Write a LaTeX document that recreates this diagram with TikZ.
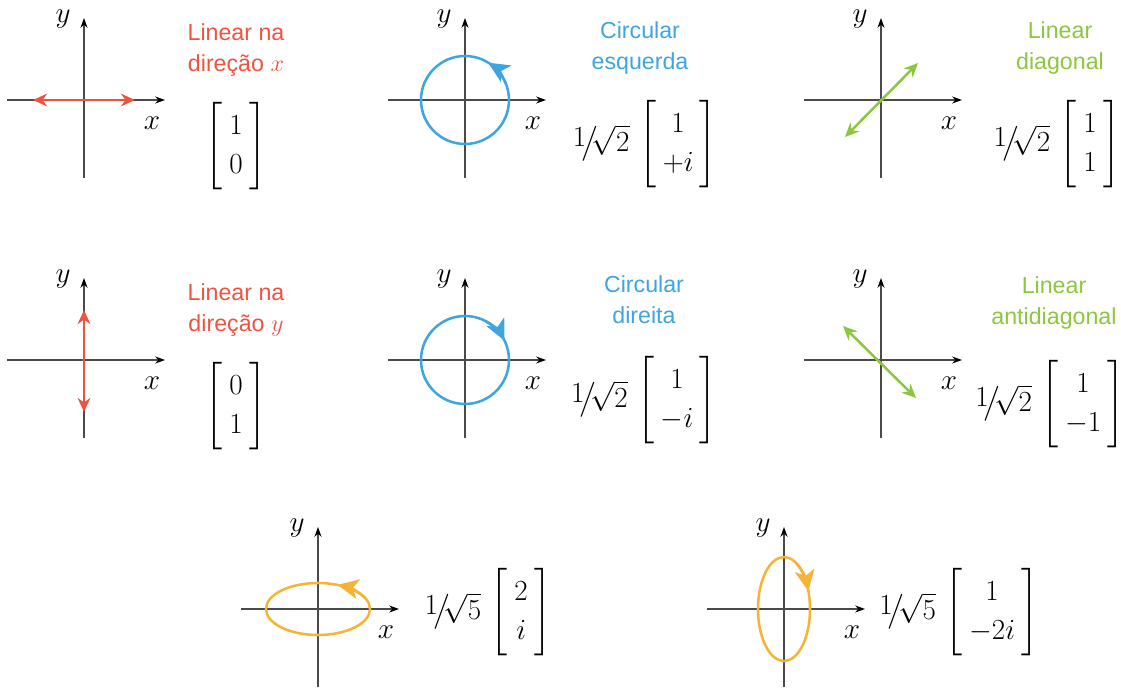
\documentclass[tikz,border=0pt]{standalone}
\usepackage[no-math]{fontspec}
\usepackage{amsmath}
\usepackage{tikz}
\usetikzlibrary{arrows.meta, positioning}
\newfontfamily\titlefont{Liberation Sans}
\definecolor{polred}{HTML}{EE5340}
\definecolor{polblue}{HTML}{3EA5DF}
\definecolor{polgreen}{HTML}{8DC63F}
\definecolor{polorange}{HTML}{F6B335}
\definecolor{axisgray}{HTML}{4A4A4A}
\newcommand{\normfac}[1]{\raisebox{0.4ex}{$1$}\mkern-3mu\big/\mkern-4mu\sqrt{#1}\mkern3mu}
\newcommand{\jones}[2]{\delimitershortfall=-3pt\left[\mkern4mu\begin{matrix}#1\\#2\end{matrix}\mkern4mu\right]}

\begin{document}
\begin{tikzpicture}[x=0.025cm, y=0.025cm,
    axis/.style={draw=axisgray, line width=0.9pt, -{Stealth[length=7pt, width=5pt, color=black]}},
    axlabel/.style={font=\fontsize{21}{25}\selectfont, inner sep=0pt},
    title/.style={font=\titlefont\fontsize{16.5}{22}\selectfont, align=center, inner sep=0pt},
    vec/.style={font=\fontsize{21}{27.5}\selectfont, inner sep=0pt},
    polline/.style={line width=1.8pt, {Stealth[length=10pt, width=9pt]}-{Stealth[length=10pt, width=9pt]}},
    polcirc/.style={line width=1.8pt},
    polhead/.style={line width=1.8pt, -{Stealth[length=15pt, width=14pt, inset=4pt]}}]
    \useasboundingbox (0,0) rectangle (1121,687);

    % Axes
    \foreach \name/\ox/\oy in {a/84/587, b/465/587, c/881/587, d/84/327, e/465/327, f/881/327, g/318/78, h/784/78} {
        \coordinate (o\name) at (\ox,\oy);
        \draw[axis] (\ox-77,\oy) -- (\ox+81,\oy);
        \draw[axis] (\ox,\oy-78) -- (\ox,\oy+82);
        \node[axlabel] (x\name) at (\ox+68,\oy-23) {$x$};
        \node[axlabel] (y\name) at (\ox-21,\oy+81) {$y$};
    }

    % Linear - red
    \draw[polred, polline] ([shift={(-51,0)}]oa) -- ([shift={(51,0)}]oa);
    \draw[polred, polline] ([shift={(0,50)}]od) -- ([shift={(0,-52)}]od);

    % Circular - blue
    \draw[polblue, polcirc] (ob) circle[radius=44];
    \draw[polblue, polhead] ([shift={(22:44)}]ob) arc[start angle=22, end angle=58, radius=44];
    \draw[polblue, polcirc] (oe) circle[radius=44];
    \draw[polblue, polhead] ([shift={(62:44)}]oe) arc[start angle=62, end angle=26, radius=44];

    % Diagonal - green
    \draw[polgreen, polline] ([shift={(-36,-37)}]oc) -- ([shift={(37,37)}]oc);
    \draw[polgreen, polline] ([shift={(-38,34)}]of) -- ([shift={(35,-38)}]of);

    % Elliptical - orange
    \draw[polorange, polcirc] (og) ellipse[x radius=52, y radius=26];
    \draw[polorange, polhead] ([shift={(25:52 and 26)}]og) arc[start angle=25, end angle=68, x radius=52, y radius=26];
    \draw[polorange, polcirc] (oh) ellipse[x radius=26, y radius=52];
    \draw[polorange, polhead] ([shift={(62:26 and 52)}]oh) arc[start angle=62, end angle=20, x radius=26, y radius=52];

    % Titles
    \node[title, text=polred] (t1) at (236,637) {Linear na\\direção $x$};
    \node[title, text=polblue] (t2) at (640,639) {Circular\\esquerda};
    \node[title, text=polgreen] (t3) at (1060,639) {Linear\\diagonal};
    \node[title, text=polred] (t4) at (236,377) {Linear na\\direção $y$};
    \node[title, text=polblue] (t5) at (644,387) {Circular\\direita};
    \node[title, text=polgreen] (t6) at (1054,384) {Linear\\antidiagonal};

    % Jones vectors
    \node[vec] (v1) at (236,541) {$\jones{1}{0}$};
    \node[vec] (v2) at (645,543) {$\normfac{2}\jones{1}{+i}$};
    \node[vec] (v3) at (1057,543) {$\normfac{2}\jones{1}{1}$};
    \node[vec] (v4) at (236,281) {$\jones{0}{1}$};
    \node[vec] (v5) at (644,287) {$\normfac{2}\jones{1}{-i}$};
    \node[vec] (v6) at (1050,283) {$\normfac{2}\jones{1}{-1}$};
    \node[vec] (v7) at (488,75) {$\normfac{5}\jones{2}{i}$};
    \node[vec] (v8) at (959,75) {$\normfac{5}\jones{1}{-2i}$};
\end{tikzpicture}
\end{document}
